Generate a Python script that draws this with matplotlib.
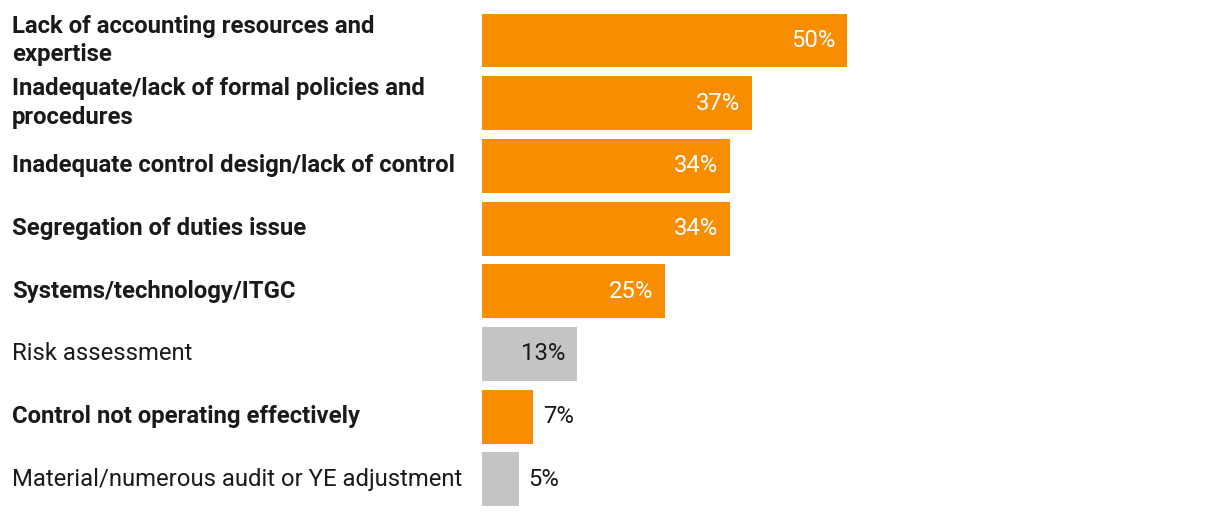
import matplotlib
matplotlib.use("Agg")
import matplotlib.pyplot as plt

categories = [
    "Lack of accounting resources and\nexpertise",
    "Inadequate/lack of formal policies and\nprocedures",
    "Inadequate control design/lack of control",
    "Segregation of duties issue",
    "Systems/technology/ITGC",
    "Risk assessment",
    "Control not operating effectively",
    "Material/numerous audit or YE adjustment",
]
values = [50, 37, 34, 34, 25, 13, 7, 5]
highlight = [True, True, True, True, True, False, True, False]

ORANGE = "#F88D00"
GRAY = "#C4C4C4"
DARK = "#1a1a1a"

plt.rcParams['font.family'] = ['Roboto', 'DejaVu Sans']

W, H = 1220, 516
fig = plt.figure(figsize=(W / 100, H / 100), dpi=100)
left_px = 482
ax = fig.add_axes([left_px / W, 0, (W - left_px) / W, 1])
px_per_unit = 7.3
ax.set_xlim(0, (W - left_px) / px_per_unit)
c0, step = 40.5, 62.7
ax.set_ylim((H - c0) / step, -c0 / step)
ax.axis("off")

ys = list(range(len(values)))
colors = [ORANGE if h else GRAY for h in highlight]
ax.barh(ys, values, height=0.86, color=colors)

FS = 17.2
for y, v, h, lab in zip(ys, values, highlight, categories):
    fig.text(12 / W, 1 - (c0 + y * step) / H, lab, ha="left", va="center",
             fontsize=FS, fontweight="bold" if h else "normal", color=DARK,
             linespacing=1.33)
    if v >= 10:
        ax.text(v - 1.6, y, f"{v}%", ha="right", va="center", fontsize=FS,
                color="white" if h else DARK)
    else:
        ax.text(v + 1.4, y, f"{v}%", ha="left", va="center", fontsize=FS,
                color=DARK)

fig.savefig("out.png", dpi=100)
